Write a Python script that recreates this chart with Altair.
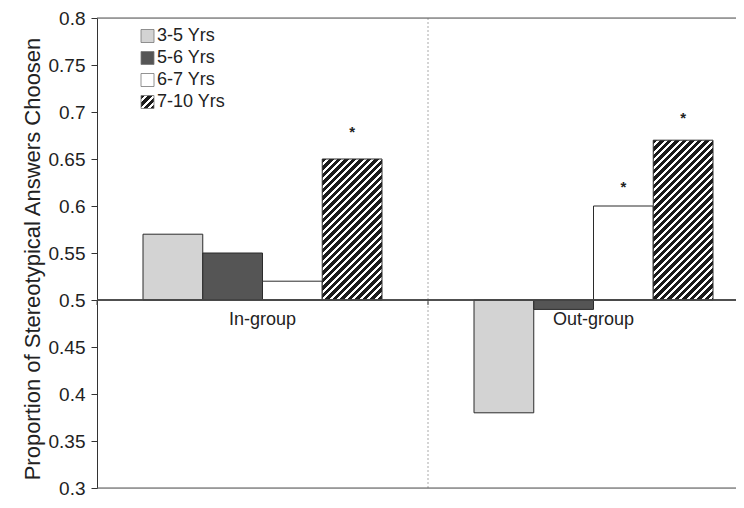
import math
import altair as alt
import pandas as pd

# ---- data ----
groups = ["In-group", "Out-group"]
ages = ["3-5 Yrs", "5-6 Yrs", "6-7 Yrs", "7-10 Yrs"]
in_group = [0.57, 0.55, 0.52, 0.65]
out_group = [0.38, 0.49, 0.60, 0.67]
star_groups = ["In-group", "Out-group", "Out-group"]
star_ages = ["7-10 Yrs", "6-7 Yrs", "7-10 Yrs"]
star_heights = [0.679, 0.620, 0.694]
y_ticks = [0.3, 0.35, 0.4, 0.45, 0.5, 0.55, 0.6, 0.65, 0.7, 0.75, 0.8]
y_title = "Proportion of Stereotypical Answers Choosen"

FONT = "Liberation Sans"
W, H = 639, 470
TOP = 10
GROUP_STEP = 331
BASE = 0.5

rows = []
for g, vals in zip(groups, [in_group, out_group]):
    for a, v in zip(ages, vals):
        rows.append({"group": g, "age": a, "value": v})
df = pd.DataFrame(rows)
solid = df[df["age"] != "7-10 Yrs"]
stars = pd.DataFrame({"group": star_groups, "age": star_ages, "y": star_heights})

x_scale = alt.Scale(domain=groups, range=[0, 2 * GROUP_STEP], paddingInner=0, paddingOuter=0)
x_enc = alt.X("group:N", scale=x_scale, axis=None)
xo_enc = alt.XOffset("age:N", scale=alt.Scale(domain=ages, paddingInner=0, paddingOuter=0.77))
y_scale = alt.Scale(domain=[0.3, 0.8], nice=False, zero=False)


def hatch(w, h, period=5.3, frac=0.6):
    c = (w + h) / (w * w + h * h)
    n = (w + h) / (math.sqrt(2) * period)
    stops = []
    k = 0
    while k / n < 1:
        o0 = k / n
        o1 = min((k + frac) / n, 1)
        o2 = min((k + 1) / n, 1)
        stops += [alt.GradientStop(offset=o0, color="#1b1b1b"),
                  alt.GradientStop(offset=o1, color="#1b1b1b")]
        if o1 < 1:
            stops += [alt.GradientStop(offset=o1, color="#ffffff"),
                      alt.GradientStop(offset=o2, color="#ffffff")]
        k += 1
    return alt.LinearGradient(gradient="linear", x1=0, y1=0, x2=c * w, y2=c * h, stops=stops)


px_per_unit = H / 0.5
bar_w = GROUP_STEP / (4 + 2 * 0.77)

sep_df = pd.DataFrame({"group": groups})
sep = alt.Chart(sep_df).transform_filter(alt.datum.group == "Out-group").mark_rule(
    color="#aaaaaa", strokeDash=[2, 2], strokeWidth=1
).encode(x=alt.X("group:N", bandPosition=0, scale=x_scale, axis=None))

cat_ticks = alt.Chart(sep_df).mark_rule(color="#444444", strokeWidth=1).encode(
    x=alt.X("group:N", bandPosition=0, axis=None),
    y=alt.datum(BASE),
    y2=alt.datum(BASE - 5 / px_per_unit),
)

hlines_df = pd.DataFrame({"y": [0.3, 0.8]})
hlines = alt.Chart(hlines_df).mark_rule(color="#555555", strokeWidth=1).encode(
    y=alt.Y("y:Q", scale=y_scale)
)

bars = alt.Chart(solid).mark_bar(stroke="#2b2b2b", strokeWidth=1).encode(
    x=x_enc,
    xOffset=xo_enc,
    y=alt.Y("value:Q", scale=y_scale,
            axis=alt.Axis(values=y_ticks, format=".2~f", grid=False,
                          labelFont=FONT, labelFontSize=19, labelColor="#222222",
                          labelPadding=6, tickSize=6, tickColor="#333333",
                          domainColor="#333333", title=y_title, titleFont=FONT,
                          titleFontSize=22, titleFontWeight="normal", titleColor="#222222",
                          titleX=-65, titleY=258.5 - 8 - TOP, titleAngle=270,
                          titleAlign="center", titleBaseline="middle")),
    y2=alt.datum(BASE),
    fill=alt.Fill("age:N", scale=alt.Scale(domain=ages[:3], range=["#d3d3d3", "#555555", "#ffffff"]),
                  legend=None),
)

hatched = []
for g, vals in zip(groups, [in_group, out_group]):
    h = abs(vals[3] - BASE) * px_per_unit
    sub = df[(df["group"] == g) & (df["age"] == "7-10 Yrs")]
    hatched.append(
        alt.Chart(sub).mark_bar(stroke="#2b2b2b", strokeWidth=1, fill=hatch(bar_w, h)).encode(
            x=x_enc, xOffset=xo_enc, y=alt.Y("value:Q", scale=y_scale), y2=alt.datum(BASE)
        )
    )

zero_line = alt.Chart(hlines_df).mark_rule(color="#444444", strokeWidth=1.5).encode(
    y=alt.datum(BASE)
)

cat_labels = alt.Chart(sep_df).mark_text(
    font=FONT, fontSize=18, color="#222222", baseline="middle", dy=20
).encode(x=alt.X("group:N", axis=None), y=alt.datum(BASE), text="group:N")

star_marks = alt.Chart(stars).mark_text(
    font=FONT, fontSize=15, fontWeight="bold", color="#222222", baseline="middle"
).encode(x=x_enc, xOffset=xo_enc, y=alt.Y("y:Q", scale=y_scale), text=alt.value("*"))

legend_fills = ["#d3d3d3", "#555555", "#ffffff", None]
legend_layers = []
for i, (lab, f) in enumerate(zip(ages, legend_fills)):
    cy = 36 - 8 - TOP + 22 * i
    fill = f if f is not None else hatch(13, 13)
    legend_layers.append(
        alt.Chart(hlines_df.head(1)).mark_rect(stroke="#777777", strokeWidth=0.8, fill=fill).encode(
            x=alt.value(44), x2=alt.value(57), y=alt.value(cy - 6.5), y2=alt.value(cy + 6.5)
        )
    )
    legend_layers.append(
        alt.Chart(hlines_df.head(1)).mark_text(
            font=FONT, fontSize=18, color="#222222", align="left", baseline="middle", text=lab
        ).encode(x=alt.value(60), y=alt.value(cy))
    )

chart = alt.layer(
    sep, hlines, bars, *hatched, zero_line, cat_ticks, cat_labels, star_marks, *legend_layers
).properties(
    width=W, height=H,
    autosize=alt.AutoSizeParams(type="none"),
    padding={"left": 89, "top": TOP, "right": 0, "bottom": 11},
).configure_view(stroke=None).configure(background="white")

chart.save("out.html", embed_options={"renderer": "svg", "actions": False})
